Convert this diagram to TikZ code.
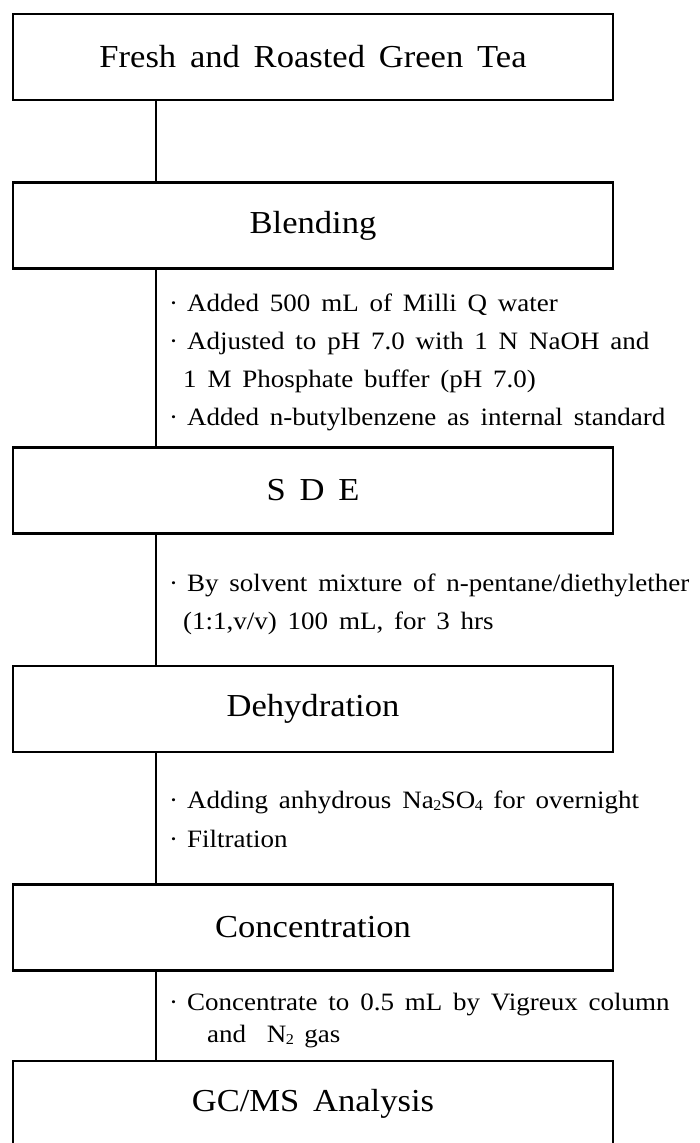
\documentclass[tikz,border=0pt]{standalone}
\usepackage{fontspec}
\setmainfont{Liberation Serif}[FakeStretch=1.08, WordSpace=1.6]
\usetikzlibrary{positioning}
\newcommand\bul{\textperiodcentered\hspace{9pt}}
\newcommand\sub[1]{\kern-0.5pt\raisebox{-2.5pt}{\fontsize{15}{15}\selectfont #1}\kern-0.5pt\relax}

\begin{document}
\begin{tikzpicture}[
    x=1pt, y=-1pt,
    stage/.style={
            draw, line width=2.6pt, inner sep=0pt,
            minimum width=600pt, minimum height=86pt,
            font=\fontsize{32}{38}\selectfont
        },
    note/.style={anchor=base west, inner sep=0pt, font=\fontsize{25}{30}\selectfont},
    link/.style={line width=2.2pt}
    ]
    \path[use as bounding box, clip] (0,0) rectangle (699,1143);
    \coordinate (spine) at (156,0);

    \node[stage] (tea) at (313,57) {Fresh and Roasted Green Tea};
    \node[stage, below=80pt of tea] (blend) {Blending};
    \node[stage, below=176pt of blend] (sde) {S D E};
    \node[stage, below=130pt of sde] (dehyd) {Dehydration};
    \node[stage, below=130pt of dehyd] (conc) {Concentration};
    \node[stage, below=88pt of conc] (gcms) {GC/MS Analysis};

    % spine between the stages
    \foreach \a/\b in {tea/blend, blend/sde, sde/dehyd, dehyd/conc, conc/gcms}
        \draw[link] (\a.south -| spine) -- (\b.north -| spine);

    % conditions of each step
    \node[note] (blend1) at (169,311) {\bul Added 500 mL of Milli Q water};
    \node[note] (blend2) at (169,349) {\bul Adjusted to pH 7.0 with 1 N NaOH and};
    \node[note] (blend3) at (183,387) {1 M Phosphate buffer (pH 7.0)};
    \node[note] (blend4) at (169,425) {\bul Added n-butylbenzene as internal standard};

    \node[note] (sde1) at (169,591) {\bul By solvent mixture of n-pentane/diethylether};
    \node[note] (sde2) at (183,629) {(1:1,v/v) 100 mL, for 3 hrs};

    \node[note] (dehyd1) at (169,808) {\bul Adding anhydrous Na\sub{2}SO\sub{4} for overnight};
    \node[note] (dehyd2) at (169,847) {\bul Filtration};

    \node[note] (conc1) at (169,1010) {\bul Concentrate to 0.5 mL by Vigreux column};
    \node[note] (conc2) at (207,1042) {and\hspace{10pt} N\sub{2} gas};
\end{tikzpicture}
\end{document}
